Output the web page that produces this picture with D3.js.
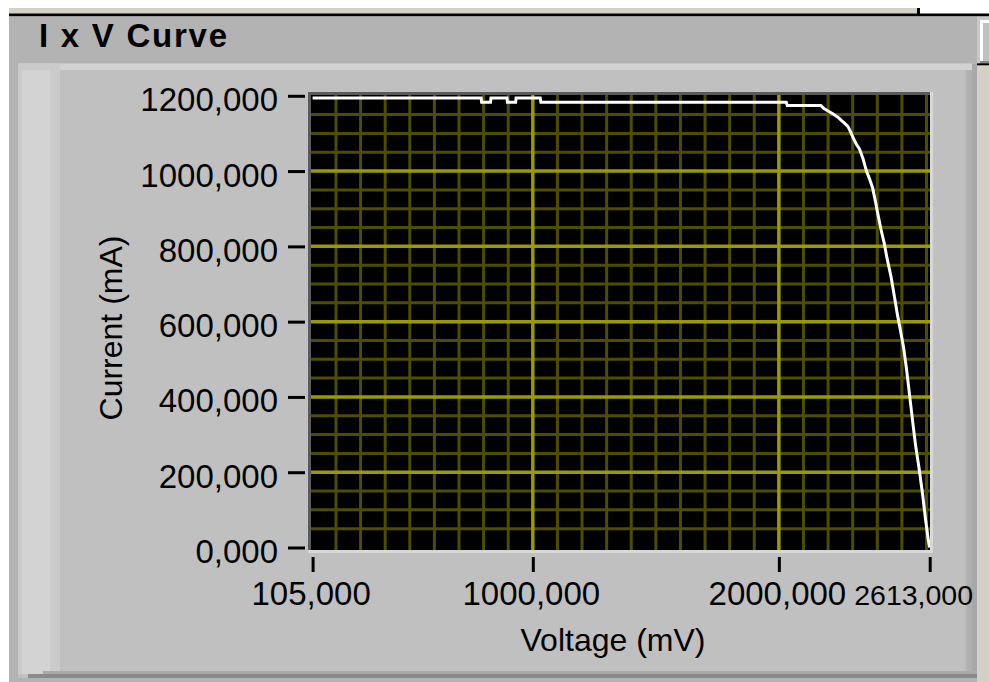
<!DOCTYPE html>
<html>
<head>
<meta charset="utf-8">
<script src="https://cdn.jsdelivr.net/npm/d3@7"></script>
<style>
  html, body { margin: 0; padding: 0; background: #ffffff; }
  svg { display: block; }
  text { font-family: "Liberation Sans", Arial, sans-serif; }
</style>
</head>
<body>
<svg id="chart" width="989" height="682"></svg>
<script>
// ---------------- data ----------------
const titleText = "I x V Curve";
const xAxisTitle = "Voltage (mV)";
const yAxisTitle = "Current (mA)";

const xTicks = [105, 1000, 2000, 2613];
const xTickLabels = ["105,000", "1000,000", "2000,000", "2613,000"];
const yTicks = [0, 200, 400, 600, 800, 1000, 1200];
const yTickLabels = ["0,000", "200,000", "400,000", "600,000", "800,000", "1000,000", "1200,000"];

const voltage = [105, 790, 792, 828, 830, 895, 897, 930, 932, 1030, 1033,
  2030, 2034, 2171, 2183, 2202, 2222, 2242, 2255, 2269, 2281, 2291, 2303, 2315,
  2328, 2342, 2356, 2368, 2381, 2393, 2405, 2417, 2429, 2439,
  2456, 2470, 2482, 2494, 2507, 2519, 2531, 2543, 2555, 2570,
  2584, 2596, 2608, 2613];
const current = [1194, 1194, 1183, 1183, 1194, 1194, 1183, 1183, 1194, 1194, 1183,
  1183, 1174, 1174, 1166, 1159, 1151, 1142, 1134, 1126, 1118, 1105, 1087, 1071,
  1058, 1033, 1000, 980, 955, 918, 877, 839, 806, 770,
  719, 665, 618, 577, 531, 473, 406, 339, 274, 209,
  142, 75, 17, 0];

// ---------------- layout ----------------
const svg = d3.select("#chart");
const W = 989, H = 682;

const x = d3.scaleLinear().domain([105, 2613]).range([312.6, 929.7]);
const y = d3.scaleLinear().domain([0, 1200]).range([547.5, 95.8]);

// window background pieces
svg.append("rect").attr("x", 0).attr("y", 0).attr("width", W).attr("height", H).attr("fill", "#ffffff");
svg.append("rect").attr("x", 9).attr("y", 8).attr("width", 908).attr("height", 6).attr("fill", "#d4d0c8");
svg.append("rect").attr("x", 917).attr("y", 8).attr("width", 3).attr("height", 8).attr("fill", "#000");
svg.append("rect").attr("x", 9).attr("y", 13.5).attr("width", W - 9).attr("height", 3).attr("fill", "#000");
// beige right side below title
svg.append("rect").attr("x", 977).attr("y", 65).attr("width", 12).attr("height", H - 65).attr("fill", "#d4d0c8");
// outer panel
svg.append("rect").attr("x", 9).attr("y", 16.5).attr("width", 968).attr("height", H - 16.5).attr("fill", "#b3b3b3");
// small control at right of title bar
svg.append("rect").attr("x", 977).attr("y", 16.5).attr("width", 12).attr("height", 47).attr("fill", "#c8c8c8");
svg.append("rect").attr("x", 980).attr("y", 20).attr("width", 9).attr("height", 41).attr("fill", "#ffffff");
svg.append("rect").attr("x", 983).attr("y", 23).attr("width", 6).attr("height", 38).attr("fill", "#c0c0c0");
svg.append("rect").attr("x", 980).attr("y", 61).attr("width", 9).attr("height", 2.5).attr("fill", "#8a8a8a");
svg.append("rect").attr("x", 977).attr("y", 63.3).attr("width", 12).attr("height", 2).attr("fill", "#000");

// inner chart panel
svg.append("rect").attr("x", 18).attr("y", 63.5).attr("width", 959).attr("height", 614.5).attr("fill", "#c0c0c0");
svg.append("rect").attr("x", 18).attr("y", 63.5).attr("width", 959).attr("height", 6.5).attr("fill", "#d2d2d2");
// left bevel column
svg.append("rect").attr("x", 18).attr("y", 63.5).attr("width", 42).attr("height", 611).attr("fill", "#cbcbcb");
svg.append("rect").attr("x", 22).attr("y", 70).attr("width", 28).attr("height", 604).attr("fill", "#d3d3d3");
// right bevel
svg.append("rect").attr("x", 965).attr("y", 70).attr("width", 2).attr("height", 604).attr("fill", "#b8b8b8");
svg.append("rect").attr("x", 967).attr("y", 70).attr("width", 5).attr("height", 604).attr("fill", "#b0b0b0");
svg.append("rect").attr("x", 972).attr("y", 63.5).attr("width", 5).attr("height", 611).attr("fill", "#a8a8a8");
// bottom bevel
svg.append("rect").attr("x", 43).attr("y", 671).attr("width", 934).attr("height", 3).attr("fill", "#aaaaaa");
svg.append("rect").attr("x", 28).attr("y", 674).attr("width", 949).attr("height", 4).attr("fill", "#8a8a8a");
svg.append("rect").attr("x", 9).attr("y", 678).attr("width", 968).attr("height", 4).attr("fill", "#b3b3b3");

// title
svg.append("text")
  .attr("x", 39).attr("y", 47)
  .attr("font-size", 33).attr("font-weight", "bold")
  .attr("textLength", 188).attr("lengthAdjust", "spacing")
  .attr("fill", "#000")
  .text(titleText);

// plot frame
const px0 = 311, px1 = 930, py0 = 95, py1 = 550;
svg.append("rect").attr("x", 308).attr("y", 92).attr("width", 625).attr("height", 461).attr("fill", "#d8d8d8");
svg.append("rect").attr("x", 308).attr("y", 92).attr("width", 622).attr("height", 458).attr("fill", "#5a5a5a");
svg.append("rect").attr("x", px0).attr("y", py0).attr("width", px1 - px0).attr("height", py1 - py0).attr("fill", "#000");

const plot = svg.append("g");
plot.append("clipPath").attr("id", "plotclip")
  .append("rect").attr("x", px0).attr("y", py0).attr("width", px1 - px0).attr("height", py1 - py0);
const grid = plot.append("g").attr("clip-path", "url(#plotclip)");

const minorColor = "#4d4d00", majorColor = "#999900";
const xMinor = d3.range(200, 2613, 100).filter(v => v % 1000 !== 0);
const xMajor = xTicks.slice(1, -1);
const yMinor = d3.range(50, 1200, 50).filter(v => v % 200 !== 0);
const yMajor = yTicks.slice(1, -1);

grid.selectAll(".xmin").data(xMinor).join("line")
  .attr("class", "xmin")
  .attr("x1", d => x(d)).attr("x2", d => x(d)).attr("y1", py0).attr("y2", py1)
  .attr("stroke", minorColor).attr("stroke-width", 3);
grid.selectAll(".ymin").data(yMinor).join("line")
  .attr("class", "ymin")
  .attr("y1", d => y(d)).attr("y2", d => y(d)).attr("x1", px0).attr("x2", px1)
  .attr("stroke", minorColor).attr("stroke-width", 3);
grid.selectAll(".xmaj").data(xMajor).join("line")
  .attr("class", "xmaj")
  .attr("x1", d => x(d)).attr("x2", d => x(d)).attr("y1", py0).attr("y2", py1)
  .attr("stroke", majorColor).attr("stroke-width", 3.5);
grid.selectAll(".ymaj").data(yMajor).join("line")
  .attr("class", "ymaj")
  .attr("y1", d => y(d)).attr("y2", d => y(d)).attr("x1", px0).attr("x2", px1)
  .attr("stroke", majorColor).attr("stroke-width", 3.5);

// curve
const pts = voltage.map((v, i) => [v, current[i]]);
grid.append("path")
  .datum(pts)
  .attr("fill", "none")
  .attr("stroke", "#ffffff")
  .attr("stroke-width", 3)
  .attr("d", d3.line().x(d => x(d[0])).y(d => y(d[1])));

// axes
const fontSize = 33;
const yAxis = d3.axisLeft(y)
  .tickValues(yTicks)
  .tickSize(17)
  .tickPadding(10)
  .tickFormat((d, i) => yTickLabels[i]);
const gy = svg.append("g").attr("transform", "translate(305,0)").call(yAxis);
gy.select(".domain").remove();
gy.selectAll(".tick line").attr("stroke", "#000").attr("stroke-width", 3);
gy.selectAll(".tick text")
  .attr("font-size", fontSize).attr("fill", "#000")
  .attr("font-family", "'Liberation Sans', Arial, sans-serif")
  .attr("dy", null).attr("y", 15);

const xAxis = d3.axisBottom(x)
  .tickValues(xTicks)
  .tickSize(15)
  .tickFormat((d, i) => xTickLabels[i]);
const gx = svg.append("g").attr("transform", "translate(0,557)").call(xAxis);
gx.select(".domain").remove();
gx.selectAll(".tick line").attr("stroke", "#000").attr("stroke-width", 3);
gx.selectAll(".tick text")
  .attr("font-size", fontSize).attr("fill", "#000")
  .attr("font-family", "'Liberation Sans', Arial, sans-serif")
  .attr("dy", null).attr("y", 48).attr("x", -2);
// last label slightly smaller so it stays inside the panel edge
gx.selectAll(".tick text").filter((d, i) => i === xTicks.length - 1)
  .attr("text-anchor", "start").attr("x", -76)
  .attr("font-size", 28.5);

// axis titles
svg.append("text")
  .attr("x", 613).attr("y", 651)
  .attr("text-anchor", "middle")
  .attr("font-size", 32).attr("fill", "#000")
  .text(xAxisTitle);
svg.append("text")
  .attr("transform", "translate(122,328) rotate(-90)")
  .attr("text-anchor", "middle")
  .attr("font-size", 32).attr("fill", "#000")
  .text(yAxisTitle);
</script>
</body>
</html>
